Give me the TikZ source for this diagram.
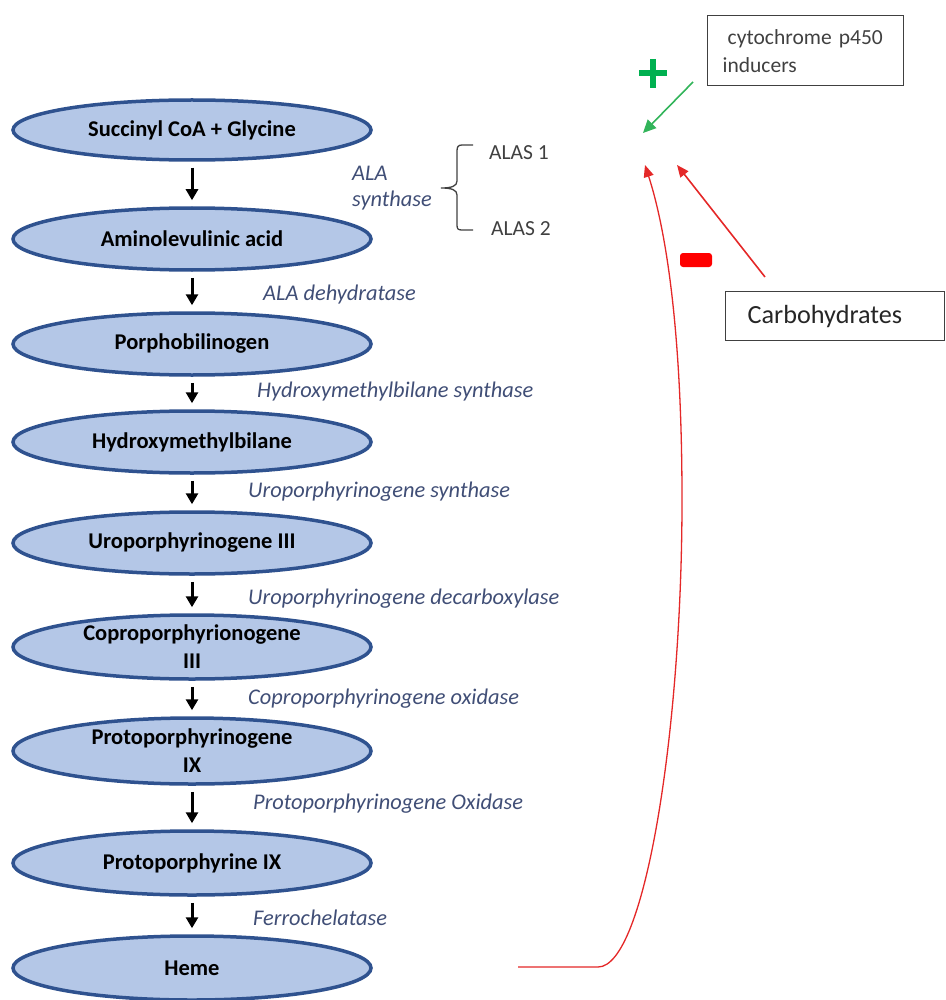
\documentclass[tikz,border=0pt]{standalone}
\usepackage{fontspec}
\setmainfont{Carlito}
\usetikzlibrary{shapes.geometric,arrows.meta}
\definecolor{efill}{RGB}{180,199,231}
\definecolor{edraw}{RGB}{47,82,143}
\definecolor{enz}{RGB}{64,78,118}
\definecolor{pgreen}{RGB}{0,176,80}
\definecolor{agreen}{RGB}{50,180,90}
\definecolor{pred}{RGB}{255,0,0}
\definecolor{cred}{RGB}{228,40,40}
\definecolor{dgray}{RGB}{64,64,64}
\begin{document}
\begin{tikzpicture}[x=1pt,y=-1pt,
  metab/.style={ellipse, draw=edraw, line width=3.5pt, fill=efill,
    minimum width=358pt, minimum height=62pt, inner sep=0pt, align=center,
    font=\fontsize{22.5}{28}\selectfont\bfseries, text=black},
  flow/.style={-{Triangle[length=11pt,width=12pt]}, line width=3pt,
    shorten <=6pt, shorten >=6pt},
  enzyme/.style={anchor=west, inner sep=0pt,
    font=\fontsize{22.4}{27}\selectfont\itshape, text=enz},
  plain/.style={anchor=west, inner sep=0pt,
    font=\fontsize{21.5}{27}\selectfont, text=dgray},
  ibox/.style={draw=dgray, line width=1.4pt, anchor=north west, align=left},
  actarrow/.style={agreen, line width=1.6pt, -{Triangle[length=13pt,width=12pt]}},
  inharrow/.style={cred, line width=1.6pt, -{Triangle[length=12pt,width=10pt]}}
]
\useasboundingbox (0,0) rectangle (945,1000);

% metabolites
\node[metab, minimum height=60pt] (e1) at (192,130) {Succinyl CoA + Glycine};
\node[metab] (e2) at (192,239) {Aminolevulinic acid};
\node[metab] (e3) at (192,344) {Porphobilinogen};
\node[metab] (e4) at (192,442) {Hydroxymethylbilane};
\node[metab] (e5) at (192,543) {Uroporphyrinogene III};
\node[metab, minimum height=64pt] (e6) at (192,647) {Coproporphyrionogene\\III};
\node[metab, minimum height=66pt] (e7) at (192,751) {Protoporphyrinogene\\IX};
\node[metab, minimum height=64pt] (e8) at (192,863) {Protoporphyrine IX};
\node[metab, minimum height=64pt] (e9) at (192,968) {Heme};

\draw[flow] (e1) -- (e2);
\draw[flow] (e2) -- (e3);
\draw[flow] (e3) -- (e4);
\draw[flow] (e4) -- (e5);
\draw[flow] (e5) -- (e6);
\draw[flow] (e6) -- (e7);
\draw[flow] (e7) -- (e8);
\draw[flow] (e8) -- (e9);

% enzymes
\node[enzyme] (z1a) at (352,173) {ALA};
\node[enzyme] (z1b) at (352,201) {synthase};
\node[enzyme] (z2) at (263,295) {ALA dehydratase};
\node[enzyme] (z3) at (257,392) {Hydroxymethylbilane synthase};
\node[enzyme] (z4) at (248,492) {Uroporphyrinogene synthase};
\node[enzyme] (z5) at (248,599) {Uroporphyrinogene decarboxylase};
\node[enzyme] (z6) at (248,699) {Coproporphyrinogene oxidase};
\node[enzyme] (z7) at (253,804) {Protoporphyrinogene Oxidase};
\node[enzyme] (z8) at (253,918) {Ferrochelatase};

% brace and isoforms
\draw[dgray, line width=1.3pt]
  (473,145) -- (462,145) .. controls (458,145) and (457,147) .. (457,151)
  -- (457,181) .. controls (457,186) and (452,188) .. (441,188)
  .. controls (452,188) and (457,190) .. (457,195)
  -- (457,225) .. controls (457,229) and (458,230) .. (462,230) -- (473,230);
\node[plain] (alas1) at (489,153) {ALAS 1};
\node[plain] (alas2) at (491,229) {ALAS 2};

% regulators
\node[ibox, minimum width=196pt, minimum height=70pt, text width=166pt,
  inner xsep=15pt, font=\fontsize{21.5}{28}\selectfont, text=dgray]
  (cyt) at (707,15) {\hspace*{5pt}cytochrome p450\\inducers};
\node[ibox, minimum width=219pt, minimum height=49pt, text width=175pt,
  inner xsep=22pt, font=\fontsize{26.2}{30}\selectfont, text=black!85]
  (carb) at (725,291) {Carbohydrates};

\coordinate (gS) at (693,82);
\coordinate (tA) at (643,133);
\coordinate (cS) at (765,277);
\coordinate (tC) at (677,165);
\coordinate (hS) at (518,967);
\coordinate (tB) at (645,165);

\draw[actarrow] (gS) -- (tA);
\draw[inharrow] (cS) -- (tC);
\draw[inharrow, line width=1.3pt] (hS) -- (598,967)
  .. controls (645,967) and (682,730) .. (682,500)
  .. controls (682,330) and (666,230) .. (tB);

% signs
\draw[pgreen, line width=6.5pt] (639,73) -- (667,73) (653,59) -- (653,88);
\fill[pred, rounded corners=3pt] (680,253) rectangle (712,267);
\end{tikzpicture}
\end{document}
